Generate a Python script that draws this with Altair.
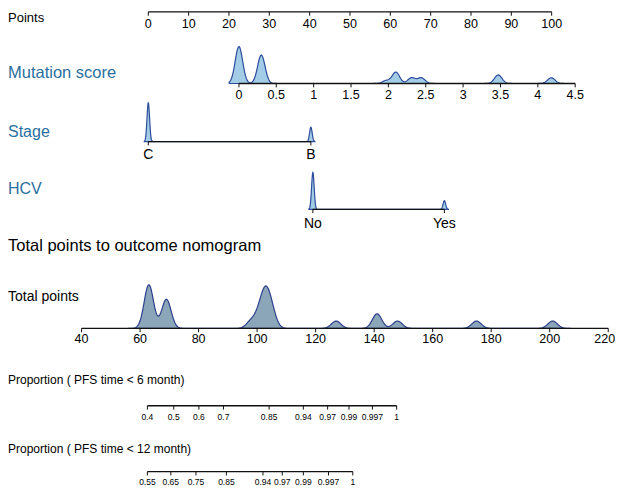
import altair as alt
import numpy as np
import pandas as pd

# ---------------- data ----------------
points_ticks = [0, 10, 20, 30, 40, 50, 60, 70, 80, 90, 100]

mutation_ticks = [0, 0.5, 1, 1.5, 2, 2.5, 3, 3.5, 4, 4.5]
mutation_ticklabels = ["0", "0.5", "1", "1.5", "2", "2.5", "3", "3.5", "4", "4.5"]
mutation_values = [0, 0.3, 1.97, 2.1, 2.31, 2.44, 3.47, 4.18]
mutation_counts = [13, 10, 1, 4, 2, 2, 3, 2]

stage_levels = ["C", "B"]
stage_points = [0, 40.3]
stage_counts = [27, 10]

hcv_levels = ["No", "Yes"]
hcv_points = [40.8, 73.4]
hcv_counts = [30, 7]

total_ticks = [40, 60, 80, 100, 120, 140, 160, 180, 200, 220]
total_values = [63, 69, 98, 101, 103, 105, 127, 141, 148, 175, 201]
total_counts = [6, 4, 1, 2, 4, 2, 1, 2, 1, 1, 1]

prob6_labels = ["0.4", "0.5", "0.6", "0.7", "0.85", "0.94", "0.97", "0.99", "0.997", "1"]
prob6_total_points = [62.5, 71.5, 80.1, 88.5, 104.1, 115.8, 124.1, 131.4, 139.4, 147.7]

prob12_labels = ["0.55", "0.65", "0.75", "0.85", "0.94", "0.97", "0.99", "0.997", "1"]
prob12_total_points = [62.5, 70.5, 79.1, 89.5, 102.0, 108.6, 115.8, 124.4, 132.7]

# ---------------- layout / style ----------------
W, H = 607, 480
REF_W, REF_H = 623, 496
FONT = "Liberation Sans"
BLUE_TXT = "#2a6f9e"
FILL1, STROKE1 = "#a3cde6", "#2c4c9c"
FILL2, STROKE2 = "#8ca6b9", "#2c3f8c"

YS = alt.Scale(domain=[0, REF_H], reverse=True, nice=False, zero=False)


def scale_for(x0_ref, px_per_unit, unit_at_x0=0.0):
    lo = unit_at_x0 + (0 - x0_ref) / px_per_unit
    hi = unit_at_x0 + (REF_W - x0_ref) / px_per_unit
    return alt.Scale(domain=[lo, hi], nice=False, zero=False)


PTS = scale_for(144.0, 4.14)
MUT = scale_for(237.0, 76.7)
TOT = scale_for(75.5, 3.003, 40.0)


def yd(v):
    return alt.Y(datum=v, scale=YS, axis=None)


def axis(values, labels, scale, y_line, y_lab, size, tick=4, last_right=False):
    df = pd.DataFrame({"v": values, "lab": labels})
    base = alt.Chart(df)
    line = base.mark_rule(color="#111111", strokeWidth=1.3).encode(
        x=alt.X("min(v):Q", scale=scale, axis=None), x2="max(v):Q", y=yd(y_line)
    )
    ticks = base.mark_rule(color="#111111", strokeWidth=1).encode(
        x=alt.X("v:Q", scale=scale, axis=None), y=yd(y_line), y2=alt.Y2(datum=y_line + tick)
    )
    out = [line, ticks]
    if last_right:
        main = alt.Chart(df.iloc[:-1])
        last = alt.Chart(df.iloc[-1:])
        out.append(
            last.mark_text(fontSize=size, font=FONT, color="black", baseline="middle", align="right", dx=7).encode(
                x=alt.X("v:Q", scale=scale, axis=None), y=yd(y_lab), text="lab:N"
            )
        )
    else:
        main = base
    out.append(
        main.mark_text(fontSize=size, font=FONT, color="black", baseline="middle").encode(
            x=alt.X("v:Q", scale=scale, axis=None), y=yd(y_lab), text="lab:N"
        )
    )
    return out


def density(values, counts, scale, bw, extent, steps, base, height, fill, stroke):
    df = pd.DataFrame({"v": np.repeat(np.array(values, dtype=float), counts)})
    return (
        alt.Chart(df)
        .transform_density("v", as_=["v", "density"], bandwidth=bw, extent=extent, steps=steps)
        .transform_joinaggregate(maxd="max(density)")
        .transform_calculate(top=f"{base} - datum.density / datum.maxd * {height}")
        .mark_area(fill=fill, stroke=stroke, strokeWidth=1.2)
        .encode(
            x=alt.X("v:Q", scale=scale, axis=None),
            y=alt.Y("top:Q", scale=YS, axis=None),
            y2=alt.Y2(datum=base),
        )
    )


def label(text, y, size, color="black"):
    return (
        alt.Chart(pd.DataFrame({"t": [text]}))
        .mark_text(align="left", baseline="middle", fontSize=size, font=FONT, color=color)
        .encode(x=alt.value(0), y=yd(y), text="t:N")
    )


layers = []
# Points row
layers += [label("Points", 10, 13)]
layers += axis(points_ticks, [str(t) for t in points_ticks], PTS, 4, 17, 12.5)

# Mutation score
layers += [label("Mutation score", 67, 16.5, BLUE_TXT)]
layers += [density(mutation_values, mutation_counts, MUT, 0.05, [-0.13, 4.35], 500, 78, 38, FILL1, STROKE1)]
layers += axis(mutation_ticks, mutation_ticklabels, MUT, 78, 90, 12.5)

# Stage
layers += [label("Stage", 128, 16, BLUE_TXT)]
layers += [density(stage_points, stage_counts, PTS, 0.32, [-1.0, 41.3], 900, 138, 40, FILL1, STROKE1)]
layers += axis(stage_points, stage_levels, PTS, 138, 152, 14)

# HCV
layers += [label("HCV", 187, 16, BLUE_TXT)]
layers += [density(hcv_points, hcv_counts, PTS, 0.32, [39.8, 74.4], 800, 208, 38, FILL1, STROKE1)]
layers += axis(hcv_points, hcv_levels, PTS, 208, 223, 14)

# Total points
layers += [label("Total points to outcome nomogram", 246, 16.5)]
layers += [label("Total points", 299, 14)]
layers += [density(total_values, total_counts, TOT, 1.6, [56, 207], 600, 331, 45, FILL2, STROKE2)]
layers += axis(total_ticks, [str(t) for t in total_ticks], TOT, 331, 342, 12.5, last_right=True)

# Proportion axes
layers += [label("Proportion ( PFS time < 6 month)", 384, 12)]
layers += axis(prob6_total_points, prob6_labels, TOT, 411, 423, 8.5)
layers += [label("Proportion ( PFS time < 12 month)", 456, 12)]
layers += axis(prob12_total_points, prob12_labels, TOT, 479, 490, 8.5)

chart = (
    alt.layer(*layers)
    .resolve_scale(x="independent")
    .properties(width=W, height=H, padding=0, autosize=alt.AutoSizeParams(type="none"), background="white")
    .configure_view(strokeWidth=0)
)

chart.save("out.html", embed_options={"renderer": "svg", "actions": False})
